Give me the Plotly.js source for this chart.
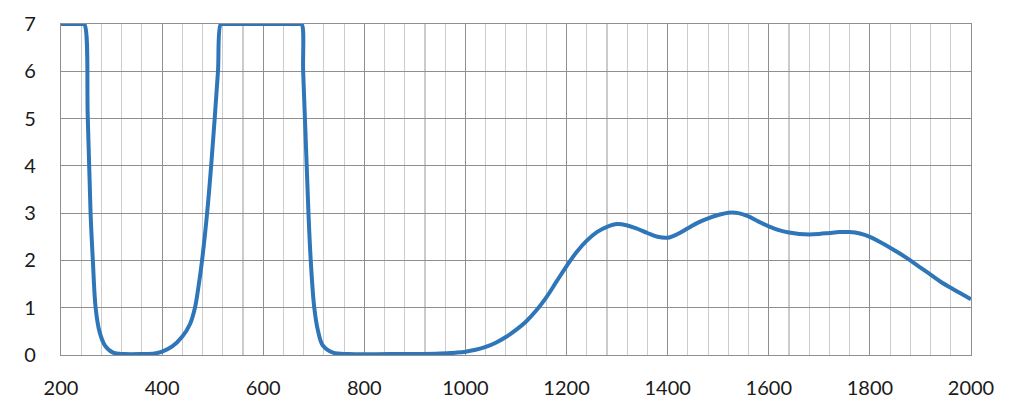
<!DOCTYPE html>
<html>
<head>
<meta charset="utf-8">
<script src="https://cdn.plot.ly/plotly-3.0.1.min.js"></script>
<style>html,body{margin:0;padding:0;background:#fff;}#chart{width:1024px;height:413px;}</style>
</head>
<body>
<div id="chart"></div>
<script>
// Wavelength (nm) and values (curve clipped at 7)
var wavelength = [200, 220, 241, 246, 253, 258.5, 263, 268.5, 276, 287, 303, 325, 360, 385, 400, 420, 440, 455, 465, 472, 479, 489, 497, 504, 510.5, 516, 521, 600, 671, 676, 679, 682.5, 686, 689.5, 694, 701, 708.6, 718, 738, 770, 850, 900, 950, 980, 1000, 1020, 1040, 1060, 1080, 1100, 1120, 1140, 1160, 1180, 1200, 1220, 1240, 1260, 1280, 1300, 1320, 1340, 1360, 1380, 1400, 1420, 1440, 1460, 1480, 1500, 1520, 1540, 1560, 1580, 1600, 1620, 1640, 1660, 1680, 1700, 1720, 1740, 1760, 1780, 1800, 1820, 1840, 1860, 1880, 1900, 1920, 1940, 1960, 1980, 2000];
var values = [7, 7, 7, 7, 5, 3, 2, 1, 0.5, 0.2, 0.05, 0.02, 0.02, 0.03, 0.07, 0.18, 0.39, 0.65, 1, 1.45, 2, 3, 4, 5, 6, 7, 7, 7, 7, 7, 6, 5, 4, 3, 2, 1, 0.5, 0.2, 0.05, 0.02, 0.02, 0.02, 0.03, 0.05, 0.07, 0.11, 0.17, 0.26, 0.38, 0.53, 0.71, 0.94, 1.22, 1.55, 1.88, 2.18, 2.42, 2.60, 2.71, 2.77, 2.74, 2.67, 2.58, 2.50, 2.48, 2.56, 2.68, 2.80, 2.89, 2.96, 3.01, 3.00, 2.93, 2.82, 2.72, 2.64, 2.59, 2.56, 2.55, 2.56, 2.58, 2.60, 2.60, 2.57, 2.50, 2.39, 2.27, 2.14, 2.00, 1.85, 1.70, 1.55, 1.42, 1.30, 1.18];
var xTicks = [200, 400, 600, 800, 1000, 1200, 1400, 1600, 1800, 2000];
var yTicks = [0, 1, 2, 3, 4, 5, 6, 7];

var trace = {
  x: wavelength,
  y: values,
  type: 'scatter',
  mode: 'lines',
  line: {color: '#2f76b9', width: 4, shape: 'spline', smoothing: 1},
  hoverinfo: 'skip'
};

var tickFont = {family: 'Lato, "Open Sans", sans-serif', size: 20, color: '#1a1a1a'};

var layout = {
  width: 1024,
  height: 413,
  margin: {l: 61, r: 53, t: 24, b: 58},
  paper_bgcolor: '#ffffff',
  plot_bgcolor: '#ffffff',
  showlegend: false,
  xaxis: {
    range: [200, 2000],
    tickmode: 'array',
    tickvals: xTicks,
    ticktext: xTicks.map(String),
    showgrid: true,
    gridcolor: '#8f8f8f',
    gridwidth: 1.2,
    minor: {dtick: 40, tick0: 200, showgrid: true, gridcolor: '#cccccc', gridwidth: 1.2},
    zeroline: false,
    showline: true,
    linecolor: '#8f8f8f',
    linewidth: 1.2,
    mirror: true,
    ticks: '',
    ticklabelstandoff: 15,
    tickfont: tickFont
  },
  yaxis: {
    range: [0, 7],
    tickmode: 'array',
    tickvals: yTicks,
    ticktext: yTicks.map(String),
    showgrid: true,
    gridcolor: '#8f8f8f',
    gridwidth: 1.2,
    zeroline: false,
    showline: true,
    linecolor: '#8f8f8f',
    linewidth: 1.2,
    mirror: true,
    ticks: '',
    ticklabelstandoff: 20,
    tickfont: tickFont
  }
};

Plotly.newPlot('chart', [trace], layout, {displayModeBar: false, staticPlot: true});
</script>
</body>
</html>
